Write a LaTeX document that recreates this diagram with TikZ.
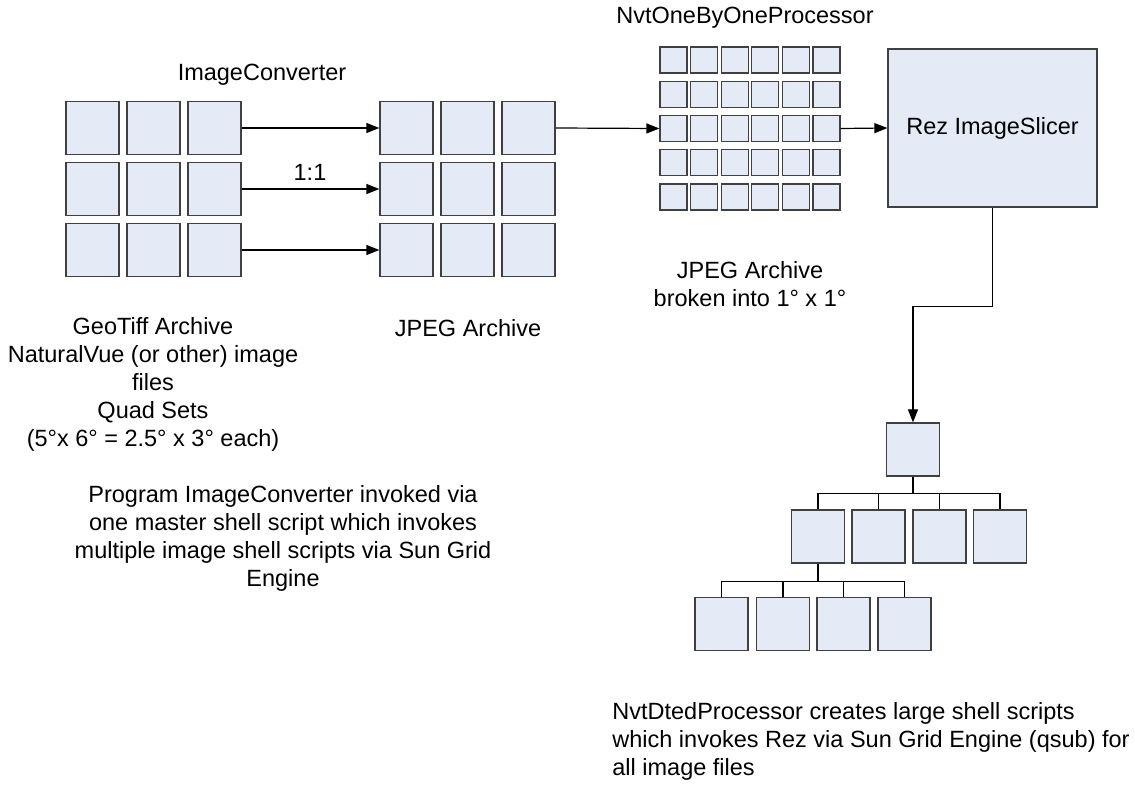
\documentclass[tikz,border=0pt]{standalone}
\usepackage{fontspec}
\setmainfont{Liberation Sans}
\usetikzlibrary{positioning, arrows.meta}
\definecolor{cellfill}{RGB}{228,235,247}
\definecolor{cellline}{RGB}{64,64,64}
\newcommand{\diagfont}{\fontsize{11.75}{14}\selectfont}

\begin{document}
\begin{tikzpicture}[x=0.5pt, y=-0.5pt,
  cell/.style={draw=cellline, fill=cellfill, line width=0.6pt, inner sep=0pt, minimum width=26.5pt, minimum height=26.5pt, font=\diagfont},
  tinycell/.style={cell, minimum width=13.5pt, minimum height=13pt},
  lbl/.style={font=\diagfont, align=center, inner sep=0pt},
  link/.style={line width=0.6pt, -{Triangle[length=6.5pt, width=5pt]}},
  wire/.style={line width=0.6pt}]
\useasboundingbox (0,0) rectangle (1135,812);

% GeoTiff and JPEG archives, one to one
\foreach \r in {1,2,3} {
  \foreach \c in {1,2,3} {
    \node[cell] (geo-\r-\c) at ({92.5+61*(\c-1)}, {128+61*(\r-1)}) {};
    \node[cell] (jpg-\r-\c) at ({406.5+61*(\c-1)}, {128+61*(\r-1)}) {};
  }
  \draw[link] (geo-\r-3) -- (jpg-\r-1);
}

% 1 x 1 degree tiles
\foreach \r in {1,...,5} {
  \foreach \c in {1,...,6} {
    \node[tinycell] (tile-\r-\c) at ({673.5+30.6*(\c-1)}, {60+34.25*(\r-1)}) {};
  }
}

% slicer
\node[cell, minimum width=104.5pt, minimum height=79pt] (rez) at (992.5,128) {Rez ImageSlicer};

\draw[link] (jpg-1-3.east) -- (tile-3-1.west);
\draw[link] (tile-3-6.east) -- (rez.west);

% slice tree
\node[cell] (slice) at (913,449.5) {};
\draw[link] (rez.south) -- ++(0,99) -| (slice.north);
\foreach \k/\x in {1/818, 2/878.5, 3/939.5, 4/1000} {
  \node[cell] (mid\k) at (\x,536.5) {};
  \draw[wire] (slice.south) -- ++(0,17) -| (mid\k.north);
}
\foreach \k/\x in {1/721.5, 2/783, 3/843.5, 4/904.5} {
  \node[cell] (leaf\k) at (\x,624) {};
  \draw[wire] (mid1.south) -- ++(0,17.5) -| (leaf\k.north);
}

% labels
\node[lbl] (conv-title) at (262,75) {ImageConverter};
\node[lbl] (proc-title) at (745,18) {NvtOneByOneProcessor};
\node[lbl] (ratio) at (310,172) {1:1};
\node[lbl] (geo-note) at (153,384) {GeoTiff Archive\\NaturalVue (or other) image\\files\\Quad Sets\\(5°x 6° = 2.5° x 3° each)};
\node[lbl] (jpg-note) at (468,328) {JPEG Archive};
\node[lbl] (tile-note) at (750,284) {JPEG Archive\\broken into 1° x 1°};
\node[lbl] (conv-note) at (283,538) {Program ImageConverter invoked via\\one master shell script which invokes\\multiple image shell scripts via Sun Grid\\Engine};
\node[lbl, align=left, anchor=west] (dted-note) at (612,741) {NvtDtedProcessor creates large shell scripts\\which invokes Rez via Sun Grid Engine (qsub) for\\all image files};
\end{tikzpicture}
\end{document}
